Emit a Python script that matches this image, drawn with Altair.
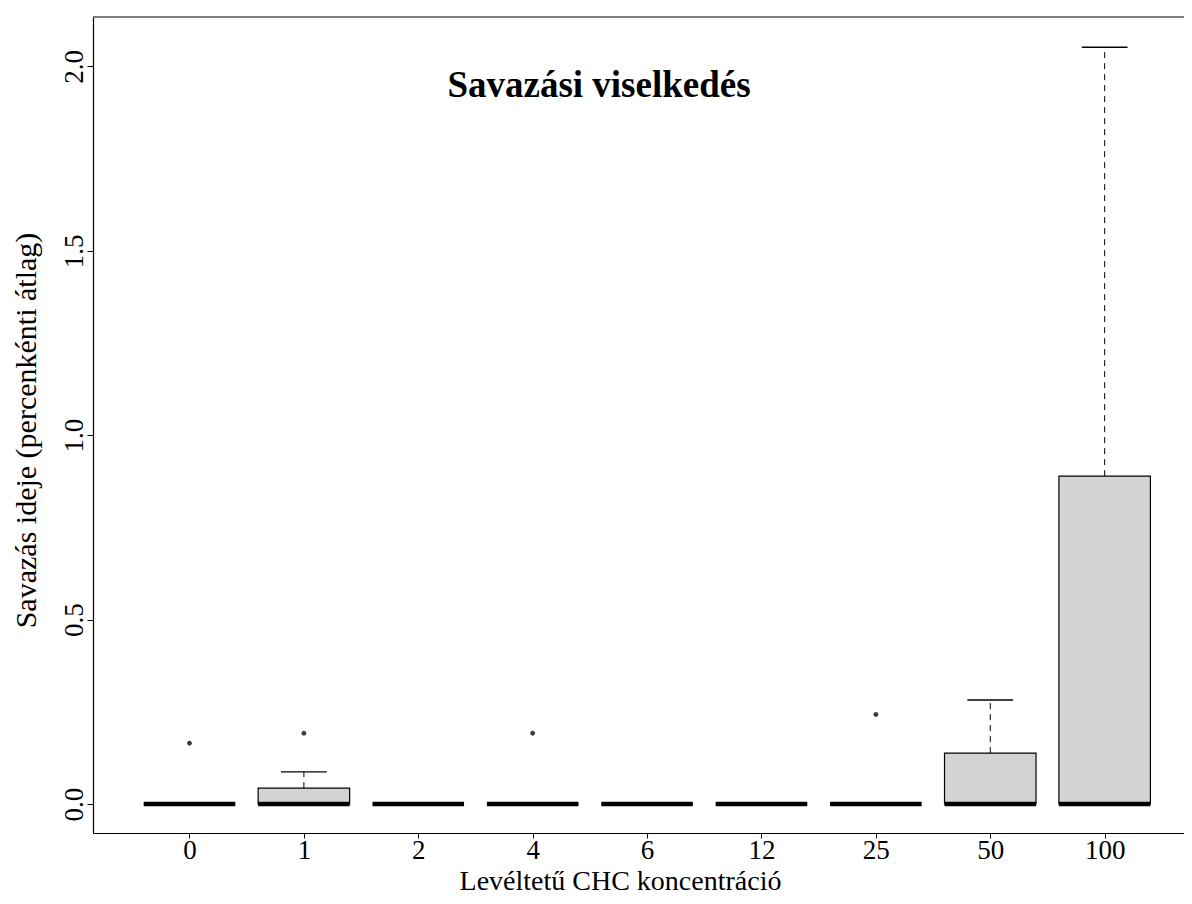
import altair as alt
import pandas as pd

# ---- data ----
groups = ["0", "1", "2", "4", "6", "12", "25", "50", "100"]
q1 = [0, 0, 0, 0, 0, 0, 0, 0, 0]
medians = [0, 0, 0, 0, 0, 0, 0, 0, 0]
q3 = [0, 0.043, 0, 0, 0, 0, 0, 0.138, 0.889]
whisker_hi = [0, 0.087, 0, 0, 0, 0, 0, 0.282, 2.052]
outlier_groups = ["0", "1", "4", "25"]
outlier_values = [0.165, 0.192, 0.192, 0.243]
y_ticks = [0.0, 0.5, 1.0, 1.5, 2.0]

title_text = "Savazási viselkedés"
x_title = "Levéltetű CHC koncentráció"
y_title = "Savazás ideje (percenkénti átlag)"

FONT = "Liberation Serif"
PLOT_W = 1091
PLOT_H = 816

pos = {g: i + 1 for i, g in enumerate(groups)}
box_df = pd.DataFrame({
    "group": groups,
    "pos": [pos[g] for g in groups],
    "q1": q1,
    "med": medians,
    "q3": q3,
    "whi": whisker_hi,
})
box_df["left"] = box_df["pos"] - 0.4
box_df["right"] = box_df["pos"] + 0.4
box_df["cap_l"] = box_df["pos"] - 0.2
box_df["cap_r"] = box_df["pos"] + 0.2

out_df = pd.DataFrame({
    "group": outlier_groups,
    "pos": [pos[g] for g in outlier_groups],
    "value": outlier_values,
})

label_arr = "[" + ",".join("'%s'" % g for g in groups) + "]"

x_scale = alt.Scale(domain=[0.1565, 9.6935], nice=False, zero=False)
y_scale = alt.Scale(domain=[-0.0786, 2.134], nice=False, zero=False)

x_axis = alt.Axis(
    values=list(range(1, len(groups) + 1)),
    labelExpr=label_arr + "[datum.value - 1]",
    title=x_title,
    grid=False, domain=True, domainColor="black", domainWidth=1.2,
    tickColor="black", tickSize=5, tickWidth=1,
    labelFont=FONT, labelFontSize=27, labelColor="black",
    labelBaseline="alphabetic", labelPadding=20,
    labelOverlap=False, labelFlush=False,
    titleFont=FONT, titleFontSize=28, titleFontWeight="normal", titleColor="black",
    titleX=527, titleY=56, titleAlign="center", titleBaseline="alphabetic",
)
y_axis = alt.Axis(
    values=y_ticks, format=".1f",
    title=y_title,
    grid=False, domain=True, domainColor="black", domainWidth=1.2,
    tickColor="black", tickSize=6, tickWidth=1,
    labelFont=FONT, labelFontSize=27, labelColor="black",
    labelAngle=270, labelAlign="center", labelBaseline="alphabetic", labelPadding=5,
    titleFont=FONT, titleFontSize=30, titleFontWeight="normal", titleColor="black",
    titleAngle=270, titleX=-58, titleY=413, titleAlign="center", titleBaseline="alphabetic",
)


def X(field):
    return alt.X(field, type="quantitative", scale=x_scale, axis=x_axis)


def Y(field):
    return alt.Y(field, type="quantitative", scale=y_scale, axis=y_axis)


base = alt.Chart(box_df)

whisker = base.transform_filter("datum.whi > datum.q3").mark_rule(
    color="black", strokeWidth=1, strokeDash=[6, 5]
).encode(x=X("pos"), y=Y("q3"), y2="whi")

caps = base.mark_rule(color="black", strokeWidth=1.3).encode(
    x=X("cap_l"), x2="cap_r", y=Y("whi")
)

boxes = base.mark_rect(fill="#D3D3D3", stroke="black", strokeWidth=1.2).encode(
    x=X("left"), x2="right", y=Y("q1"), y2="q3"
)

median_lines = base.mark_rule(color="black", strokeWidth=4.5, strokeCap="butt").encode(
    x=X("left"), x2="right", y=Y("med")
)

outliers = alt.Chart(out_df).mark_circle(size=16, color="#444444", opacity=1,
                                         stroke="#222222", strokeWidth=0.8).encode(
    x=X("pos"), y=Y("value")
)

one = pd.DataFrame({"t": [title_text]})

# top edge of the plot frame (the right edge lies outside the picture)
top_edge = alt.Chart(one).mark_rule(color="black", strokeWidth=1.2).encode(
    x=alt.value(0), x2=alt.value(PLOT_W), y=alt.value(0)
)

title = alt.Chart(one).mark_text(
    font=FONT, fontSize=37, fontWeight="bold", color="black",
    align="center", baseline="alphabetic"
).encode(text="t:N", x=alt.value(506), y=alt.value(80))

chart = alt.layer(whisker, caps, boxes, median_lines, outliers, top_edge, title).properties(
    width=PLOT_W, height=PLOT_H,
    padding={"left": 85, "top": 9, "right": 0, "bottom": 63},
    autosize=alt.AutoSizeParams(type="none"),
    background="white",
).configure_view(stroke=None)

chart.save("out.html", embed_options={"renderer": "svg", "actions": False})
